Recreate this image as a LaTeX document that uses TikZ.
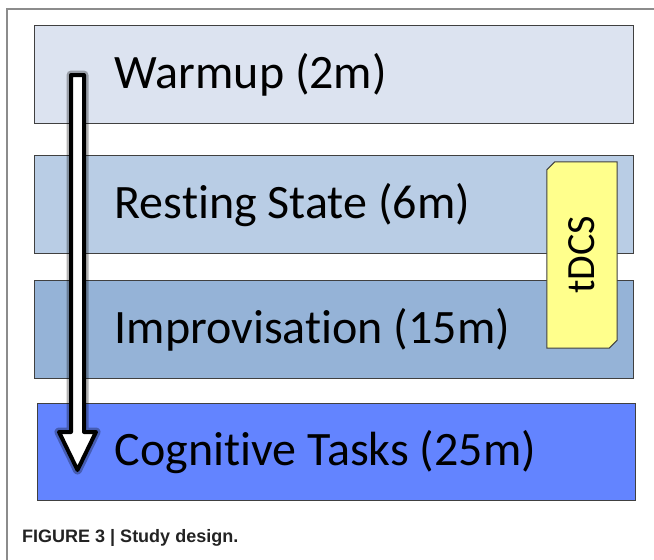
\documentclass[tikz,border=0pt]{standalone}
\usepackage{fontspec}
\setmainfont{Carlito}[Ligatures=NoCommon]
\newfontfamily\capfont{Liberation Sans}
\usetikzlibrary{calc,positioning}

\definecolor{edgegray}{RGB}{64,64,64}
\definecolor{framegray}{RGB}{140,140,140}
\definecolor{captiongray}{RGB}{35,35,35}
\definecolor{warmupblue}{RGB}{220,227,240}
\definecolor{restblue}{RGB}{185,205,229}
\definecolor{improvblue}{RGB}{149,179,215}
\definecolor{cogblue}{RGB}{99,132,255}
\definecolor{tdcsyellow}{RGB}{255,255,140}

\begin{document}
\begin{tikzpicture}[x=1pt, y=-1pt,
    stage/.style={draw=edgegray, line width=1pt, minimum width=599pt, minimum height=98pt, inner sep=0pt},
    stagetext/.style={anchor=base west, inner sep=0pt, font=\fontsize{48pt}{56pt}\selectfont},
    tdcsline/.style={draw=edgegray, line width=1pt, fill=tdcsyellow},
    arrowbody/.style={draw=black, line width=4pt, fill=white, line join=round,
        preaction={draw=black, opacity=0.3, line width=9pt, line join=round}}]
    \useasboundingbox (0,0) rectangle (654,560);
    \draw[line width=2pt, framegray] (7,560) -- (7,9) -- (654,9);
    \node[stage, fill=warmupblue] (warmup) at (333.5,74) {};
    \node[stage, fill=restblue] (resting) at (333.5,204) {};
    \node[stage, fill=improvblue] (improv) at (333.5,329) {};
    \node[stage, fill=cogblue, minimum width=598pt, minimum height=97pt] (cognitive) at (336,451.5) {};
    \node[stagetext] (warmuplbl) at ([xshift=81pt,yshift=-14pt]warmup.west) {Warmup (2m)};
    \node[stagetext] (restinglbl) at ([xshift=81pt,yshift=-14pt]resting.west) {Resting State (6m)};
    \node[stagetext] (improvlbl) at ([xshift=81pt,yshift=-14pt]improv.west) {Improvisation (15m)};
    \node[stagetext] (cognitivelbl) at ([xshift=78pt,yshift=-14pt]cognitive.west) {Cognitive Tasks (25m)};
    \node[inner sep=0pt, minimum width=70pt, minimum height=186pt] (tdcs) at (582,255) {};
    \draw[tdcsline] ([yshift=-8pt]tdcs.north west) -- ([xshift=8pt]tdcs.north west) -- (tdcs.north east)
        -- ([yshift=8pt]tdcs.south east) -- ([xshift=-8pt]tdcs.south east) -- (tdcs.south west) -- cycle;
    \node[rotate=90, inner sep=0pt, font=\fontsize{40pt}{48pt}\selectfont] (tdcslbl) at (tdcs.center) {tDCS};
    \coordinate (arrtop) at (77.5,75);
    \coordinate (arrtip) at (77.5,470);
    \draw[arrowbody] ($(arrtop)+(-6.5,0)$) -- ($(arrtip)+(-6.5,-38)$) -- ($(arrtip)+(-18.5,-38)$) -- (arrtip)
        -- ($(arrtip)+(18.5,-38)$) -- ($(arrtip)+(6.5,-38)$) -- ($(arrtop)+(6.5,0)$) -- cycle;
    \node[anchor=base west, inner sep=0pt, text=captiongray, font=\capfont\bfseries\fontsize{18pt}{22pt}\selectfont] (caption) at (22,542) {FIGURE 3 | Study design.};
\end{tikzpicture}
\end{document}
